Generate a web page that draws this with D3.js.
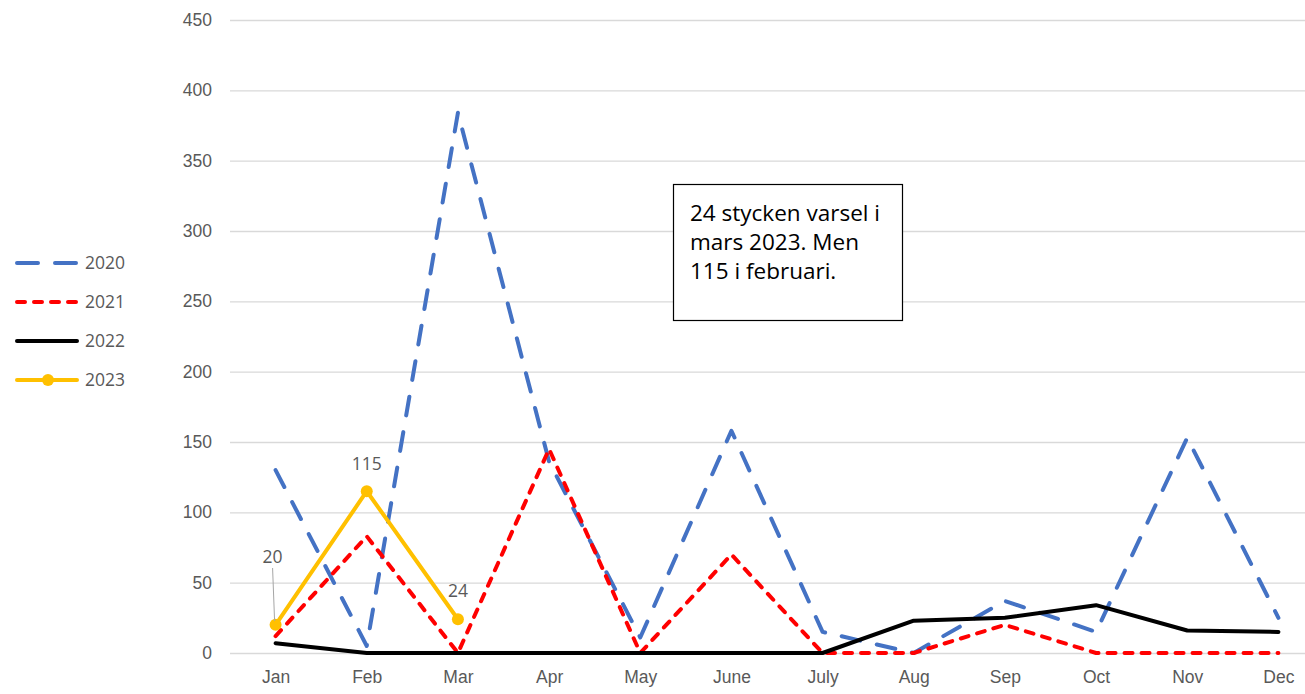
<!DOCTYPE html>
<html>
<head>
<meta charset="utf-8">
<script src="https://cdn.jsdelivr.net/npm/d3@7"></script>
<style>
  body { margin: 0; background: #fff; }
  svg { display: block; font-family: "Open Sans", "Noto Sans", sans-serif; }
  .tick-label { fill: #595959; font-size: 17.5px; }
</style>
</head>
<body>
<div id="chart"></div>
<script>
const WIDTH = 1305, HEIGHT = 694;

// Data
const months = ["Jan", "Feb", "Mar", "Apr", "May", "June", "July", "Aug", "Sep", "Oct", "Nov", "Dec"];
const yTicks = [0, 50, 100, 150, 200, 250, 300, 350, 400, 450];
const values2020 = [130, 5, 384, 136, 11, 158, 15, 0, 37, 15, 153, 25];
const values2021 = [12, 83, 0, 145, 0, 70, 0, 0, 20, 0, 0, 0];
const values2022 = [7, 0, 0, 0, 0, 0, 0, 23, 25, 34, 16, 15];
const values2023 = [20, 115, 24];
const noteLines = ["24 stycken varsel i", "mars 2023. Men", "115 i februari."];

const series = [
  { name: "2020", values: values2020, color: "#4472c4", dash: "19,17" },
  { name: "2021", values: values2021, color: "#ff0000", dash: "8,9" },
  { name: "2022", values: values2022, color: "#000000", dash: null },
  { name: "2023", values: values2023, color: "#ffc000", dash: null, markers: true }
];

const svg = d3.select("#chart").append("svg")
  .attr("width", WIDTH)
  .attr("height", HEIGHT);

// scales
const x = d3.scalePoint().domain(months).range([230, 1324]).padding(0.5);
const y = d3.scaleLinear().domain([0, 450]).range([653, 20]);

// gridlines
const yGridCall = d3.axisLeft(y).tickValues(yTicks).tickSize(-(WIDTH - 230)).tickFormat("");
svg.append("g")
  .attr("transform", "translate(230,0)")
  .call(yGridCall)
  .call(g => g.select(".domain").remove())
  .call(g => g.selectAll("line").attr("stroke", "#d9d9d9").attr("stroke-width", 1.3));

// y labels
const yAxisCall = d3.axisLeft(y).tickValues(yTicks).tickSize(0).tickPadding(0);
svg.append("g")
  .attr("transform", "translate(212,0)")
  .call(yAxisCall)
  .call(g => g.select(".domain").remove())
  .call(g => g.selectAll("text").attr("class", "tick-label").attr("font-family", null).attr("font-size", null));

// x labels
const xAxisCall = d3.axisBottom(x).tickSize(0).tickPadding(0);
svg.append("g")
  .attr("transform", "translate(0,671)")
  .call(xAxisCall)
  .call(g => g.select(".domain").remove())
  .call(g => g.selectAll("text").attr("class", "tick-label").attr("font-family", null).attr("font-size", null));

// lines
const line = d3.line()
  .x((d, i) => x(months[i]))
  .y(d => y(d));

series.forEach(s => {
  svg.append("path")
    .datum(s.values)
    .attr("fill", "none")
    .attr("stroke", s.color)
    .attr("stroke-width", 4)
    .attr("stroke-linecap", "round")
    .attr("stroke-linejoin", "round")
    .attr("stroke-dasharray", s.dash)
    .attr("d", line);
});

// 2023 markers + labels
const s23 = series[3];
svg.selectAll(".m23")
  .data(values2023)
  .enter()
  .append("circle")
  .attr("class", "m23")
  .attr("cx", (d, i) => x(months[i]))
  .attr("cy", d => y(d))
  .attr("r", 6)
  .attr("fill", s23.color);

// leader line for first label
svg.append("line")
  .attr("x1", x(months[0]) - 3).attr("y1", 568)
  .attr("x2", x(months[0]) - 1).attr("y2", y(values2023[0]) - 4)
  .attr("stroke", "#a6a6a6").attr("stroke-width", 1);

const labelOffsets = [[-3, -62], [0, -21], [0, -22]];
svg.selectAll(".l23")
  .data(values2023)
  .enter()
  .append("text")
  .attr("class", "tick-label")
  .attr("x", (d, i) => x(months[i]) + labelOffsets[i][0])
  .attr("y", (d, i) => y(d) + labelOffsets[i][1])
  .attr("text-anchor", "middle")
  .text(d => d);

// annotation box
svg.append("rect")
  .attr("x", 673.5).attr("y", 184.5)
  .attr("width", 229).attr("height", 136)
  .attr("fill", "#fff")
  .attr("stroke", "#000")
  .attr("stroke-width", 1.2);

svg.append("g")
  .selectAll("text")
  .data(noteLines)
  .enter()
  .append("text")
  .attr("x", 690)
  .attr("y", (d, i) => 221 + i * 29)
  .attr("font-size", 22.5)
  .attr("fill", "#000")
  .text(d => d);

// legend
const legend = svg.append("g").attr("transform", "translate(17,263)");
series.forEach((s, i) => {
  const g = legend.append("g").attr("transform", `translate(0,${i * 39})`);
  g.append("line")
    .attr("x1", 0).attr("x2", 60)
    .attr("stroke", s.color)
    .attr("stroke-width", 4)
    .attr("stroke-linecap", "round")
    .attr("stroke-dasharray", s.name === "2020" ? "21,17" : s.dash);
  if (s.markers) {
    g.append("circle").attr("cx", 31).attr("r", 6).attr("fill", s.color);
  }
  g.append("text")
    .attr("class", "tick-label")
    .attr("x", 68)
    .attr("y", 6)
    .text(s.name);
});
</script>
</body>
</html>
